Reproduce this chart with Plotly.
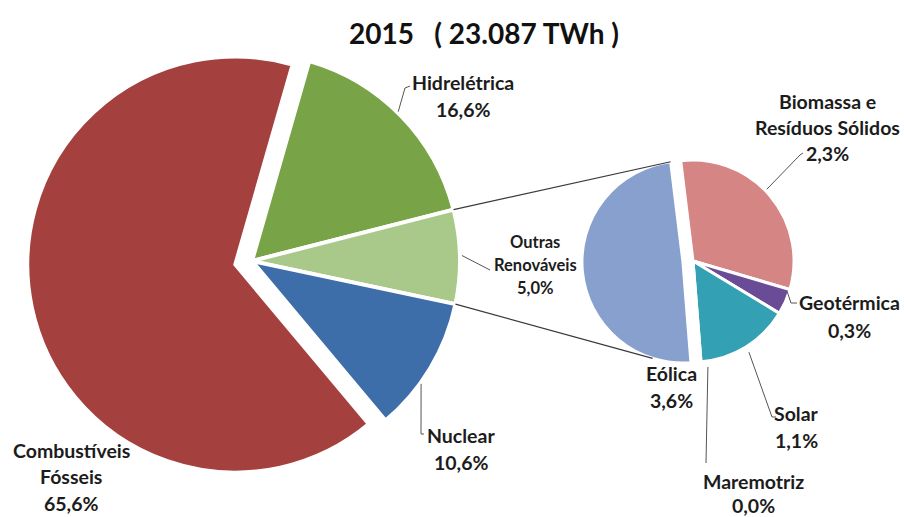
import math
import plotly.graph_objects as go

W, H = 904, 517

# ---------------- data ----------------
title_text = "2015   ( 23.087 TWh )"

main_labels = ["Hidrelétrica", "Outras<br>Renováveis", "Nuclear", "Combustíveis<br>Fósseis"]
main_pct = ["16,6%", "5,0%", "10,6%", "65,6%"]
main_colors = ["#78A346", "#A8C98A", "#3D6EAA", "#A4403E"]

sub_labels = ["Biomassa e<br>Resíduos Sólidos", "Geotérmica", "Solar", "Maremotriz", "Eólica"]
sub_values = [2.3, 0.3, 1.1, 0.0, 3.6]
sub_pct = ["2,3%", "0,3%", "1,1%", "0,0%", "3,6%"]
sub_colors = ["#D48584", "#6A4C96", "#33A0B3", "#2E8A9E", "#87A0CE"]

# main pie: "Outras Renováveis" slice holds the sum of the secondary pie
main_values = [16.6, sum(sub_values), 10.6, 65.6]

# ---------------- geometry (pixels) ----------------
C1 = (252, 261); R1 = 208; PULL1 = [0, 0, 0, 0.082]; ROT1 = 16
C2 = (693, 261); R2 = 101; PULL2 = [0, 0, 0, 0, 0.1]; ROT2 = -7


def dom(c, r, pull):
    half = r * (1 + max(pull))
    return dict(x=[(c[0] - half) / W, (c[0] + half) / W],
                y=[1 - (c[1] + half) / H, 1 - (c[1] - half) / H])


def pt(c, r, ang):
    a = math.radians(ang)
    return (c[0] + r * math.sin(a), c[1] - r * math.cos(a))


def P(x, y):
    return x / W, 1 - y / H


fig = go.Figure()
fig.add_trace(go.Pie(values=main_values, labels=[l.replace("<br>", " ") for l in main_labels],
                     sort=False, direction="clockwise", rotation=ROT1, pull=PULL1,
                     marker=dict(colors=main_colors, line=dict(color="white", width=4)),
                     textinfo="none", hoverinfo="label+value", domain=dom(C1, R1, PULL1),
                     showlegend=False))
fig.add_trace(go.Pie(values=sub_values, labels=[l.replace("<br>", " ") for l in sub_labels],
                     sort=False, direction="clockwise", rotation=ROT2, pull=PULL2,
                     marker=dict(colors=sub_colors, line=dict(color="white", width=3)),
                     textinfo="none", hoverinfo="label+value", domain=dom(C2, R2, PULL2),
                     showlegend=False))


def angles(vals, rot):
    tot = sum(vals); out = []; a = rot
    for v in vals:
        s = v / tot * 360
        out.append((a, a + s)); a += s
    return out


ang1 = angles(main_values, ROT1)
ang2 = angles(sub_values, ROT2)

shapes = []
# connector lines from "Outras" slice to secondary pie
eol = ang2[4]
eol_mid = (eol[0] + eol[1]) / 2
ec = pt(C2, PULL2[4] * R2, eol_mid)
a_top = pt(C1, R1, ang1[1][0]); b_top = pt(ec, R2, eol[1])
a_bot = pt(C1, R1, ang1[1][1]); b_bot = pt(ec, R2, eol[0] + 22)
for a, b in [(a_top, b_top), (a_bot, b_bot)]:
    x0, y0 = P(*a); x1, y1 = P(*b)
    shapes.append(dict(type="line", xref="paper", yref="paper", x0=x0, y0=y0, x1=x1, y1=y1,
                       line=dict(color="#3a3a3a", width=1.2)))

FONT = "Lato"
TXT = "#1c1c1c"
annotations = []
tx, ty = P(484, 33)
annotations.append(dict(text="<b>" + title_text + "</b>", x=tx, y=ty, xref="paper", yref="paper",
                        xanchor="center", yanchor="middle", showarrow=False,
                        font=dict(family=FONT, size=28, color="#111")))

# label layout: center x, first-line y, font size, line step (pixels)
label_pos = {
    "Hidrelétrica": (463, 82, 19.5, 28),
    "Outras<br>Renováveis": (535, 242, 16.5, 23),
    "Nuclear": (461, 435, 19.5, 27),
    "Combustíveis<br>Fósseis": (71, 450, 19.5, 26.5),
    "Biomassa e<br>Resíduos Sólidos": (827, 102, 19.5, 25.5),
    "Geotérmica": (849, 302, 19.5, 28),
    "Solar": (796, 413, 19.5, 27),
    "Maremotriz": (753, 481, 19.5, 24.5),
    "Eólica": (671, 373, 19.5, 27),
}
for lab, pct in list(zip(main_labels, main_pct)) + list(zip(sub_labels, sub_pct)):
    x, y0, fs, step = label_pos[lab]
    lines = lab.split("<br>") + [pct]
    for i, ln in enumerate(lines):
        xx, yy = P(x, y0 + i * step)
        annotations.append(dict(text="<b>" + ln + "</b>", x=xx, y=yy, xref="paper", yref="paper",
                                xanchor="center", yanchor="middle", showarrow=False,
                                font=dict(family=FONT, size=fs, color=TXT)))

# leader lines: (center, radius, angle, bend px, end px)
leaders = [
    (C1, R1 + 1, 44.4, (405, 88), (410, 86)),
    (C1, R1 + 2, 88.5, (490, 270), (490, 270)),
    (C1, R1 + 1, 126, (421, 434), (424, 434)),
    (C2, R2 + 2, 45.8, (800, 155), (803, 153)),
    (C2, R2 + 6, 148.5, (772, 417), (776, 417)),
    (C2, R2 + 6, 172, (706, 463), (706, 463)),
    (C2, R2 - 2, 108, (791, 303), (797, 303)),
]
for c, r, a, bend, end in leaders:
    s = pt(c, r, a)
    for p0, p1 in [(s, bend), (bend, end)]:
        if p0 == p1:
            continue
        x0, y0 = P(*p0); x1, y1 = P(*p1)
        shapes.append(dict(type="line", xref="paper", yref="paper", x0=x0, y0=y0, x1=x1, y1=y1,
                           line=dict(color="#555", width=1)))

fig.update_layout(width=W, height=H, margin=dict(l=0, r=0, t=0, b=0),
                  paper_bgcolor="white", plot_bgcolor="white",
                  shapes=shapes, annotations=annotations)
fig.write_html("out.html")
